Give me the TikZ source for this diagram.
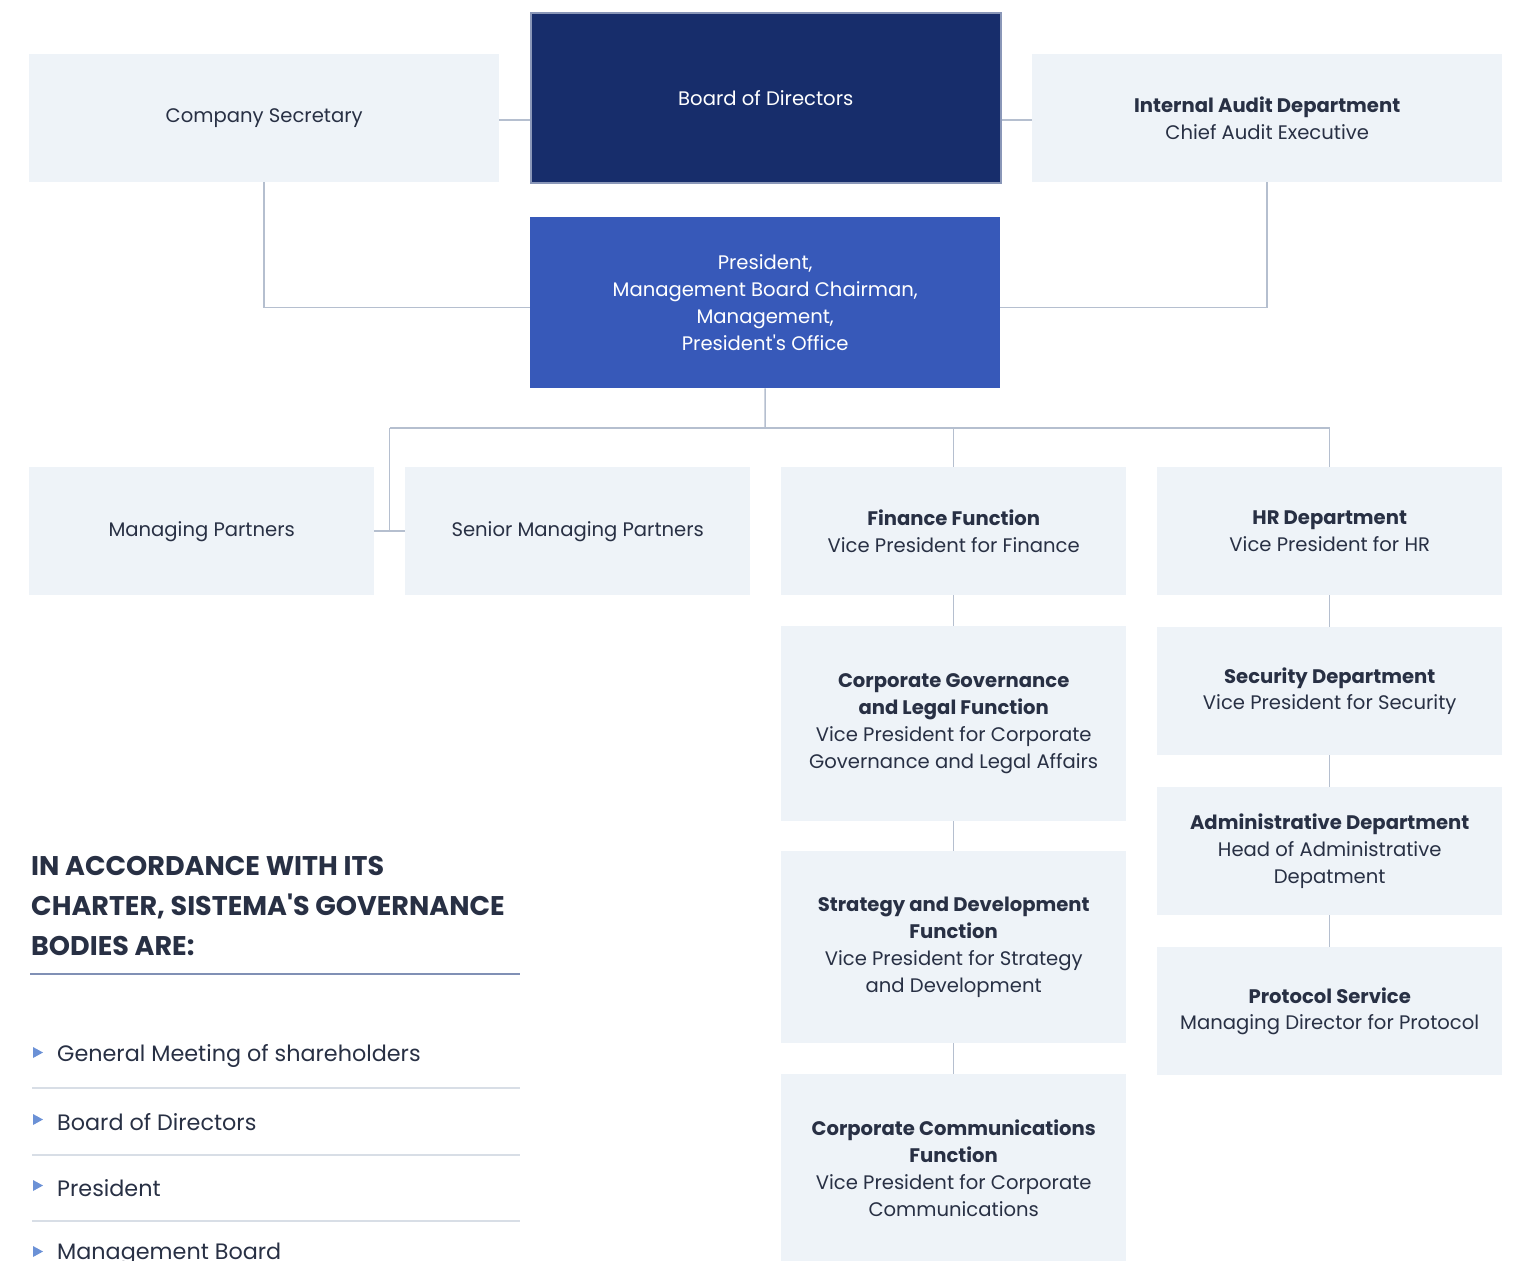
\documentclass[tikz,border=0pt]{standalone}
\usepackage{fontspec}
\setmainfont{Poppins}[Ligatures=TeXOff]
\definecolor{boxbg}{HTML}{EEF3F8}
\definecolor{navy}{HTML}{172D6B}
\definecolor{navyedge}{HTML}{8A97B8}
\definecolor{royal}{HTML}{3759B9}
\definecolor{ink}{HTML}{283044}
\definecolor{wire}{HTML}{B5BFCF}
\definecolor{rule}{HTML}{8090B5}
\definecolor{sep}{HTML}{D8DEE6}
\definecolor{bullet}{HTML}{6B91D6}
\begin{document}
\begin{tikzpicture}[x=1pt,y=-1pt,
  unit/.style={anchor=north west, inner sep=0pt, align=center, text=ink,
    fill=boxbg, font=\fontsize{19.6}{26.8}\selectfont},
  wide/.style={unit, minimum width=470pt, minimum height=128pt},
  narrow/.style={unit, minimum width=345pt, minimum height=128pt},
  conn/.style={draw=wire, line width=1.5pt},
  listtext/.style={anchor=west, inner sep=0pt, text=ink, font=\fontsize{22.3}{28}\selectfont},
  headtext/.style={anchor=base west, inner sep=0pt, text=ink, font=\fontsize{27}{40}\selectfont\bfseries},
]
\useasboundingbox (0,0) rectangle (1513,1261);

% top level
\node[wide, fill=navy, draw=navyedge, line width=1.5pt, text=white, minimum height=170pt] (bod) at (530,12) {Board of Directors};
\node[wide] (cs) at (29,54) {Company Secretary};
\node[wide] (ia) at (1032,54) {\textbf{Internal Audit Department}\\Chief Audit Executive};
\node[wide, fill=royal, text=white, minimum height=171pt] (pres) at (530,217)
  {President,\\Management Board Chairman,\\Management,\\President's Office};

% second level
\node[narrow] (mp) at (29,467) {Managing Partners};
\node[narrow] (smp) at (405,467) {Senior Managing Partners};
\node[narrow] (fin) at (781,467) {\textbf{Finance Function}\\Vice President for Finance};
\node[narrow] (hr) at (1157,467) {\textbf{HR Department}\\Vice President for HR};

% finance column
\node[narrow, minimum height=195pt] (cg) at (781,626)
  {\textbf{Corporate Governance}\\\textbf{and Legal Function}\\Vice President for Corporate\\Governance and Legal Affairs};
\node[narrow, minimum height=192pt] (sd) at (781,851)
  {\textbf{Strategy and Development}\\\textbf{Function}\\Vice President for Strategy\\and Development};
\node[narrow, minimum height=188pt] (cc) at (781,1074)
  {\textbf{Corporate Communications}\\\textbf{Function}\\Vice President for Corporate\\Communications};

% HR column
\node[narrow] (sec) at (1157,627) {\textbf{Security Department}\\Vice President for Security};
\node[narrow] (adm) at (1157,787) {\textbf{Administrative Department}\\Head of Administrative\\Depatment};
\node[narrow] (prot) at (1157,947) {\textbf{Protocol Service}\\Managing Director for Protocol};

% connectors
\draw[conn] ([yshift=-2pt]cs.east) -- ([yshift=-2pt]cs.east -| bod.west);
\draw[conn] ([yshift=-2pt]ia.west) -- ([yshift=-2pt]ia.west -| bod.east);
\draw[conn] (cs.south) |- ([yshift=-5pt]pres.west);
\draw[conn] (ia.south) |- ([yshift=-5pt]pres.east);
\coordinate (bus) at (765,428);
\coordinate (busL) at (389.5,428);
\draw[conn] (pres.south) -- (bus);
\draw[conn] (busL) -| (hr.north);
\draw[conn] (fin.north |- bus) -- (fin.north);
\draw[conn] (busL) -- (busL |- mp.east);
\draw[conn] (mp.east) -- (smp.west);
\draw[conn] (fin.south) -- (cg.north);
\draw[conn] (cg.south) -- (sd.north);
\draw[conn] (sd.south) -- (cc.north);
\draw[conn] (hr.south) -- (sec.north);
\draw[conn] (sec.south) -- (adm.north);
\draw[conn] (adm.south) -- (prot.north);

% governance bodies list
\node[headtext] (h1) at (31,875) {IN ACCORDANCE WITH ITS};
\node[headtext] (h2) at (31,915) {CHARTER, SISTEMA'S GOVERNANCE};
\node[headtext] (h3) at (31,955) {BODIES ARE:};
\draw[draw=rule, line width=1.5pt] (30,974) -- (520,974);

\foreach \yy/\txt/\nm in {1054/General Meeting of shareholders/l1, 1121/Board of Directors/l2,
    1187/President/l3, 1253/Management Board/l4} {
  \fill[bullet] (33,\yy-7) -- (43,\yy-1.5) -- (33,\yy+4) -- cycle;
  \node[listtext] (\nm) at (57,\yy+1.5) {\txt};
}
\foreach \yy in {1088,1155,1221}
  \draw[draw=sep, line width=1.5pt] (32,\yy) -- (520,\yy);
\end{tikzpicture}
\end{document}
